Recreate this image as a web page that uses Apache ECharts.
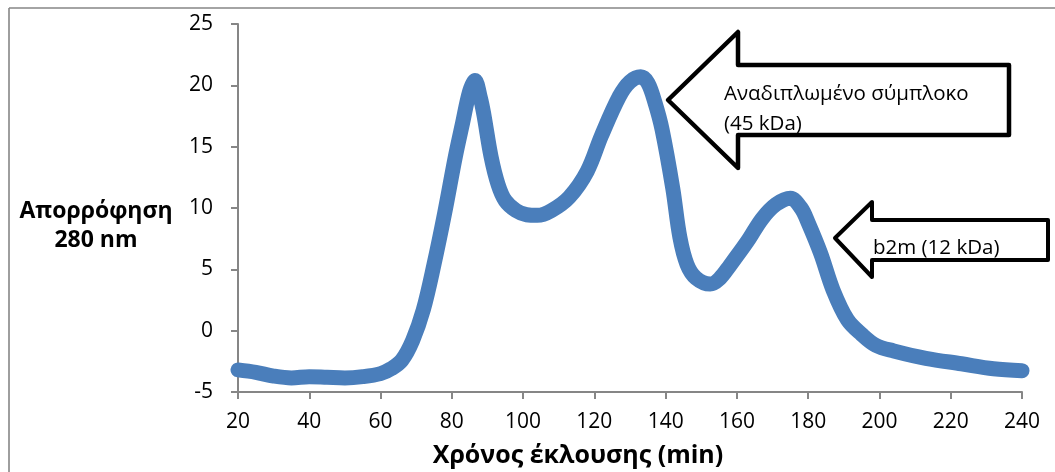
<!DOCTYPE html>
<html>
<head>
<meta charset="utf-8">
<title>Χρωματογράφημα έκλουσης</title>
<script src="https://cdn.jsdelivr.net/npm/echarts@6/dist/echarts.min.js"></script>
<style>
  html, body { margin: 0; padding: 0; background: #ffffff; }
  #chart { width: 1055px; height: 472px; }
</style>
</head>
<body>
<div id="chart"></div>
<script>
// Elution time (min) and absorbance at 280 nm
const elutionTime = [
  20, 25, 30, 35, 40, 45, 50, 55, 60, 63, 66, 69, 72, 75, 78, 81, 83, 85, 86.5,
  88, 89, 91, 93, 95, 98, 101, 104, 108, 113, 118, 122, 127, 130, 133, 135, 137,
  139, 142, 144, 146, 148.5, 152.5, 155, 158, 163, 167, 171, 175, 178, 180, 183.5,
  187, 191, 195, 199, 204, 213, 223, 232, 240
];
const absorbance = [
  -3.2, -3.4, -3.7, -3.85, -3.75, -3.8, -3.85, -3.75, -3.5, -3.1, -2.4, -0.8, 1.7, 5.4, 9.6, 14.2, 16.9, 19.5, 20.4,
  19.0, 17.6, 14.2, 11.9, 10.6, 9.8, 9.45, 9.4, 9.8, 10.9, 13.0, 15.9, 19.1, 20.3, 20.7, 20.2, 18.6,
  16.4, 11.6, 7.6, 5.4, 4.3, 3.8, 4.2, 5.3, 7.3, 9.1, 10.3, 10.8, 10.0, 8.8, 6.3,
  3.3, 0.9, -0.3, -1.2, -1.65, -2.25, -2.7, -3.1, -3.26
];
const xTicks = { min: 20, max: 240, step: 20 };
const yTicks = { min: -5, max: 25, step: 5 };

const xTitle = 'Χρόνος έκλουσης (min)';
const yTitle = ['Απορρόφηση', '280 nm'];
const bigArrowText = 'Αναδιπλωμένο σύμπλοκο\n(45 kDa)';
const smallArrowText = 'b2m (12 kDa)';

const FONT = '"Open Sans", "Noto Sans", sans-serif';
const AXIS_GREY = '#868686';

const points = elutionTime.map((t, i) => [t, absorbance[i]]);

const chart = echarts.init(document.getElementById('chart'), null, { renderer: 'canvas' });

chart.setOption({
  animation: false,
  backgroundColor: '#ffffff',
  grid: { left: 238, right: 33, top: 24, bottom: 80 },
  xAxis: {
    type: 'value',
    min: xTicks.min, max: xTicks.max, interval: xTicks.step,
    axisLine: { show: true, onZero: false, lineStyle: { color: AXIS_GREY, width: 2 } },
    axisTick: { show: true, inside: false, length: 7, lineStyle: { color: AXIS_GREY, width: 2 } },
    axisLabel: { color: '#000', fontFamily: FONT, fontSize: 21, margin: 20 },
    splitLine: { show: false }
  },
  yAxis: {
    type: 'value',
    min: yTicks.min, max: yTicks.max, interval: yTicks.step,
    axisLine: { show: true, onZero: false, lineStyle: { color: AXIS_GREY, width: 2 } },
    axisTick: { show: true, inside: false, length: 7, lineStyle: { color: AXIS_GREY, width: 2 } },
    axisLabel: { color: '#000', fontFamily: FONT, fontSize: 21, margin: 25 },
    splitLine: { show: false }
  },
  series: [{
    type: 'line',
    data: points,
    showSymbol: false,
    smooth: 0.35,
    lineStyle: { color: '#4A7EBB', width: 15, cap: 'round', join: 'round' },
    itemStyle: { color: '#4A7EBB' },
    z: 3
  }],
  graphic: [
    // frame edges
    { type: 'line', shape: { x1: 9, y1: 8, x2: 9, y2: 472 }, style: { stroke: AXIS_GREY, lineWidth: 1.6 } },
    { type: 'line', shape: { x1: 9, y1: 8, x2: 1055, y2: 8 }, style: { stroke: AXIS_GREY, lineWidth: 1.6 } },
    // axis titles
    {
      type: 'text', x: 578, y: 456,
      style: { text: xTitle, fill: '#000', font: 'bold 25px ' + FONT, align: 'center', verticalAlign: 'middle' }
    },
    {
      type: 'text', x: 96, y: 211,
      style: { text: yTitle[0], fill: '#000', font: 'bold 23px ' + FONT, align: 'center', verticalAlign: 'middle' }
    },
    {
      type: 'text', x: 96, y: 240,
      style: { text: yTitle[1], fill: '#000', font: 'bold 23px ' + FONT, align: 'center', verticalAlign: 'middle' }
    },
    // large callout arrow
    {
      type: 'polygon', z: 10,
      shape: { points: [[668, 100], [738, 32], [738, 65], [1009, 65], [1009, 135], [738, 135], [738, 168]] },
      style: { fill: '#ffffff', stroke: '#000', lineWidth: 4.5, lineJoin: 'round' }
    },
    {
      type: 'text', x: 724, y: 109, z: 11,
      style: { text: bigArrowText, fill: '#000', font: '20.5px ' + FONT, lineHeight: 30, align: 'left', verticalAlign: 'middle' }
    },
    // small callout arrow
    {
      type: 'polygon', z: 10,
      shape: { points: [[835, 238], [872, 202], [872, 220], [1048, 220], [1048, 260], [872, 260], [872, 277]] },
      style: { fill: '#ffffff', stroke: '#000', lineWidth: 4, lineJoin: 'round' }
    },
    {
      type: 'text', x: 873, y: 248, z: 11,
      style: { text: smallArrowText, fill: '#000', font: '20.5px ' + FONT, align: 'left', verticalAlign: 'middle' }
    }
  ]
});
</script>
</body>
</html>
